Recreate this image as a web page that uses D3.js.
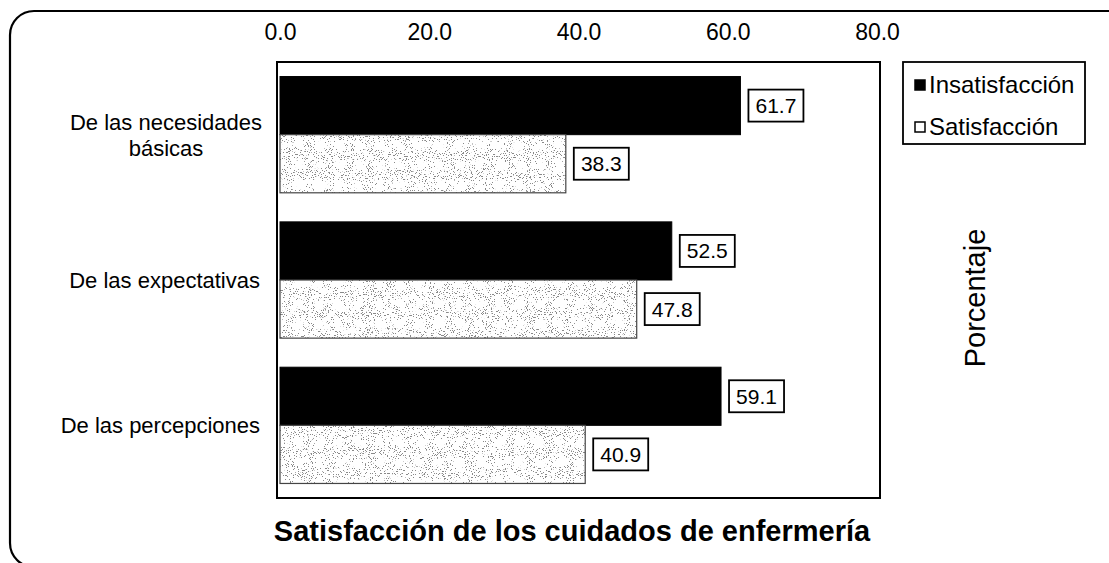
<!DOCTYPE html>
<html>
<head>
<meta charset="utf-8">
<script src="https://cdn.jsdelivr.net/npm/d3@7"></script>
<style>
  html, body { margin: 0; padding: 0; background: #fff; }
  svg { display: block; font-family: "Liberation Sans", Arial, sans-serif; }
</style>
</head>
<body>
<svg id="chart" width="1109" height="563"></svg>
<script>
// Satisfacción de los cuidados de enfermería (%)
const categories = [
  ["De las necesidades", "básicas"],
  ["De las expectativas"],
  ["De las percepciones"]
];
const seriesNames = ["Insatisfacción", "Satisfacción"];
const insatisfaccion = [61.7, 52.5, 59.1];
const satisfaccion = [38.3, 47.8, 40.9];
const tickValues = [0, 20, 40, 60, 80];

const svg = d3.select("#chart");

// Stipple texture for the light bars
const defs = svg.append("defs");
const f = defs.append("filter").attr("id", "stipple")
  .attr("x", 0).attr("y", 0).attr("width", "100%").attr("height", "100%")
  .attr("filterUnits", "objectBoundingBox");
f.append("feTurbulence").attr("type", "fractalNoise").attr("baseFrequency", 0.95)
  .attr("numOctaves", 2).attr("seed", 7).attr("result", "noise");
f.append("feColorMatrix").attr("in", "noise").attr("type", "matrix")
  .attr("values", "0 0 0 0 0.25  0 0 0 0 0.25  0 0 0 0 0.25  -26 0 0 0 9.6").attr("result", "dots");
f.append("feFlood").attr("flood-color", "#ffffff").attr("result", "white");
f.append("feComposite").attr("in", "dots").attr("in2", "white").attr("operator", "over").attr("result", "tex");
f.append("feComposite").attr("in", "tex").attr("in2", "SourceGraphic").attr("operator", "in");

// Outer rounded border
svg.append("rect")
  .attr("x", 10).attr("y", 11).attr("width", 1140).attr("height", 556)
  .attr("rx", 24).attr("ry", 24)
  .attr("fill", "none").attr("stroke", "#000").attr("stroke-width", 2.2);

// Plot area
const plot = { left: 277, right: 880, top: 62, bottom: 498 };

const x = d3.scaleLinear().domain([0, 80]).range([280, 877]);
const y = d3.scaleBand().domain(d3.range(categories.length))
  .range([plot.top, plot.bottom]).paddingInner(0.2).paddingOuter(0.1);
const ySub = d3.scaleBand().domain([0, 1]).range([0, y.bandwidth()]);

svg.append("rect")
  .attr("x", plot.left).attr("y", plot.top)
  .attr("width", plot.right - plot.left).attr("height", plot.bottom - plot.top)
  .attr("fill", "#fff").attr("stroke", "#000").attr("stroke-width", 2);

// Top value axis labels
const axis = d3.axisTop(x).tickValues(tickValues).tickFormat(d3.format(".1f")).tickSize(0).tickPadding(0);
const gAxis = svg.append("g").attr("transform", "translate(0,40)").call(axis);
gAxis.select(".domain").remove();
gAxis.selectAll("text").attr("font-size", 23).attr("fill", "#000")
  .attr("font-family", "Liberation Sans, Arial, sans-serif").attr("dy", 0);

// Bars
const rows = categories.map((c, i) => ({ i, vals: [insatisfaccion[i], satisfaccion[i]] }));
const groups = svg.selectAll("g.cat").data(rows).join("g")
  .attr("class", "cat").attr("transform", d => `translate(0,${y(d.i)})`);

groups.each(function (d) {
  const g = d3.select(this);
  d.vals.forEach((v, s) => {
    const y0 = ySub(s), h = ySub.bandwidth();
    if (s === 0) {
      g.append("rect").attr("x", x(0)).attr("y", y0).attr("width", x(v) - x(0)).attr("height", h)
        .attr("fill", "#000").attr("stroke", "#000").attr("stroke-width", 1);
    } else {
      g.append("rect").attr("x", x(0)).attr("y", y0).attr("width", x(v) - x(0)).attr("height", h)
        .attr("fill", "#fff").attr("filter", "url(#stipple)");
      g.append("rect").attr("x", x(0)).attr("y", y0).attr("width", x(v) - x(0)).attr("height", h)
        .attr("fill", "none").attr("stroke", "#444").attr("stroke-width", 1.2);
    }
    // value label in a box
    const bw = 55, bh = 32;
    const bx = x(v) + 8, by = y0 + h / 2 - bh / 2;
    g.append("rect").attr("x", bx).attr("y", by).attr("width", bw).attr("height", bh)
      .attr("fill", "#fff").attr("stroke", "#000").attr("stroke-width", 1.8);
    g.append("text").attr("x", bx + bw / 2).attr("y", by + bh / 2 + 7.5)
      .attr("text-anchor", "middle").attr("font-size", 21).text(d3.format(".1f")(v));
  });
});

// Category labels
categories.forEach((lines, i) => {
  const cy = y(i) + y.bandwidth() / 2;
  const t = svg.append("text").attr("font-size", 22).attr("fill", "#000");
  if (lines.length === 1) {
    t.attr("x", 260).attr("y", cy + 8).attr("text-anchor", "end").text(lines[0]);
  } else {
    const lh = 26;
    const first = cy - (lines.length - 1) * lh / 2 + 8;
    t.attr("text-anchor", "middle");
    lines.forEach((ln, k) => {
      t.append("tspan").attr("x", 166).attr("y", first + k * lh).text(ln);
    });
  }
});

// Legend
const lg = svg.append("g");
lg.append("rect").attr("x", 903).attr("y", 62).attr("width", 182).attr("height", 82)
  .attr("fill", "#fff").attr("stroke", "#000").attr("stroke-width", 1.8);
seriesNames.forEach((name, k) => {
  const cy = 85 + k * 42;
  lg.append("rect").attr("x", 915).attr("y", cy - 5).attr("width", 10).attr("height", 10)
    .attr("fill", k === 0 ? "#000" : "#fff").attr("stroke", "#000").attr("stroke-width", 1.5);
  lg.append("text").attr("x", 929).attr("y", cy + 8).attr("font-size", 24).text(name);
});

// Value axis title
svg.append("text")
  .attr("transform", "translate(985,298) rotate(-90)")
  .attr("text-anchor", "middle").attr("font-size", 29).text("Porcentaje");

// Chart title
svg.append("text").attr("x", 572).attr("y", 541).attr("text-anchor", "middle")
  .attr("font-size", 29).attr("font-weight", "bold")
  .text("Satisfacción de los cuidados de enfermería");
</script>
</body>
</html>
